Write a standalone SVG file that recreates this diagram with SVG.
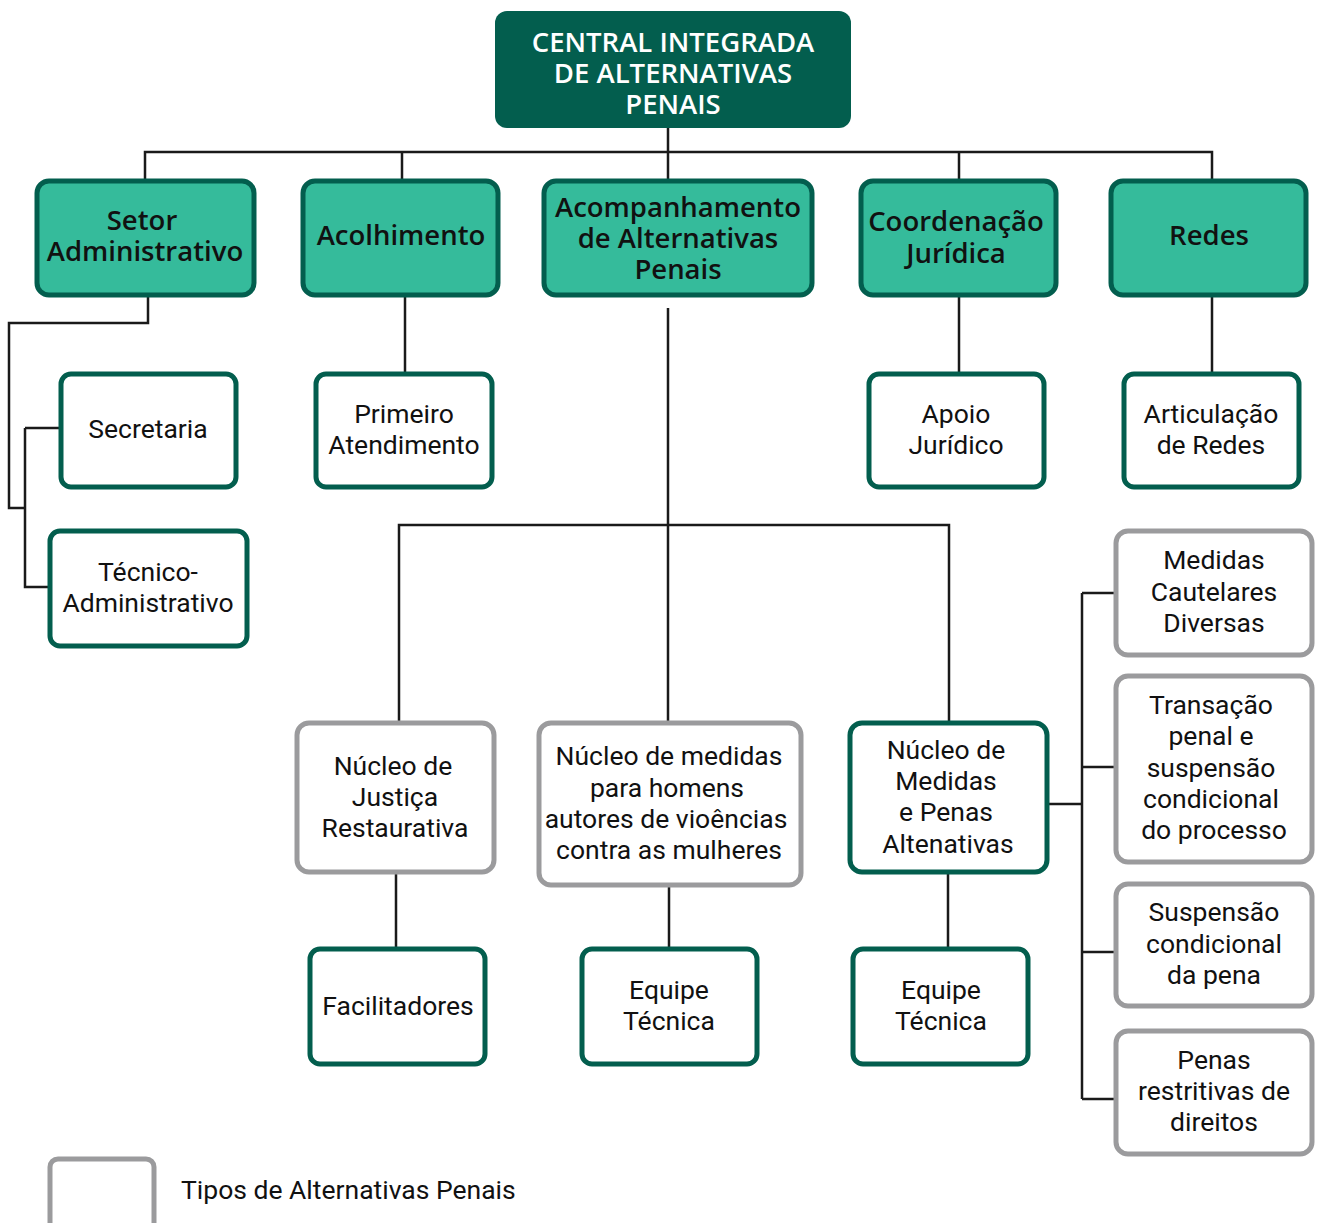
<svg xmlns="http://www.w3.org/2000/svg" width="1317" height="1223" viewBox="0 0 1317 1223">
<style>
.top{fill:#035E4E;}
.l2{fill:#35BB9B;stroke:#035E4E;stroke-width:5;}
.gn{fill:#fff;stroke:#035E4E;stroke-width:5;}
.gy{fill:#fff;stroke:#9B9B9D;stroke-width:5;}
.hd{font-family:"Open Sans","Noto Sans",sans-serif;font-weight:600;font-size:27.5px;fill:#111;text-anchor:middle;}
.tt{font-family:"Open Sans","Noto Sans",sans-serif;font-weight:600;font-size:27.5px;fill:#fff;text-anchor:middle;}
.tx{font-family:Roboto,"Liberation Sans",sans-serif;font-size:26.5px;fill:#111;text-anchor:middle;}
.lg{font-family:Roboto,"Liberation Sans",sans-serif;font-size:26.5px;fill:#111;}
#connectors path{fill:none;stroke:#1a1a1a;stroke-width:2.5;}
</style>
<rect width="1317" height="1223" fill="#fff"/>
<g id="connectors">
<path d="M668 128V152M145 180V152H1212V180M402 152V180M668 152V180M959 152V180"/>
<path d="M148 296V323H9V508H25M25 428H60M25 428V587H49"/>
<path d="M405 296V373"/>
<path d="M959 296V373M1212 296V373"/>
<path d="M668 308V722M399 722V525H949V722"/>
<path d="M396 873V948M669 886V948M948 873V948"/>
<path d="M1048 804H1082M1082 593V1099M1082 593H1115M1082 767H1115M1082 952H1115M1082 1099H1115"/>
</g>
<g id="central"><rect class="top" x="495" y="11" width="356" height="117" rx="12"/>
<text class="tt" x="673" y="52">CENTRAL INTEGRADA</text><text class="tt" x="673" y="83">DE ALTERNATIVAS</text><text class="tt" x="673" y="114">PENAIS</text></g>
<g id="setor"><rect class="l2" x="37" y="181" width="217" height="114" rx="12"/>
<text class="hd" x="142" y="230">Setor</text><text class="hd" x="145" y="261">Administrativo</text></g>
<g id="acolhimento"><rect class="l2" x="303" y="181" width="195" height="114" rx="12"/>
<text class="hd" x="401" y="245">Acolhimento</text></g>
<g id="acompanhamento"><rect class="l2" x="544" y="181" width="268" height="114" rx="12"/>
<text class="hd" x="678" y="217">Acompanhamento</text><text class="hd" x="678" y="248">de Alternativas</text><text class="hd" x="678" y="279">Penais</text></g>
<g id="coordenacao"><rect class="l2" x="861" y="181" width="195" height="114" rx="12"/>
<text class="hd" x="956" y="231">Coordenação</text><text class="hd" x="956" y="263">Jurídica</text></g>
<g id="redes"><rect class="l2" x="1111" y="181" width="195" height="114" rx="12"/>
<text class="hd" x="1209" y="245">Redes</text></g>
<g id="secretaria"><rect class="gn" x="61" y="374" width="175" height="113" rx="10"/>
<text class="tx" x="148" y="438">Secretaria</text></g>
<g id="tecnico"><rect class="gn" x="50" y="531" width="197" height="115" rx="10"/>
<text class="tx" x="148" y="581">Técnico-</text><text class="tx" x="148" y="612">Administrativo</text></g>
<g id="primeiro"><rect class="gn" x="316" y="374" width="176" height="113" rx="10"/>
<text class="tx" x="404" y="423">Primeiro</text><text class="tx" x="404" y="454">Atendimento</text></g>
<g id="apoio"><rect class="gn" x="869" y="374" width="175" height="113" rx="10"/>
<text class="tx" x="956" y="423">Apoio</text><text class="tx" x="956" y="454">Jurídico</text></g>
<g id="articulacao"><rect class="gn" x="1124" y="374" width="175" height="113" rx="10"/>
<text class="tx" x="1211" y="423">Articulação</text><text class="tx" x="1211" y="454">de Redes</text></g>
<g id="justica"><rect class="gy" x="297" y="723" width="197" height="149" rx="12"/>
<text class="tx" x="393" y="775">Núcleo de</text><text class="tx" x="395" y="806">Justiça</text><text class="tx" x="395" y="837">Restaurativa</text></g>
<g id="homens"><rect class="gy" x="539" y="723" width="262" height="162" rx="12"/>
<text class="tx" x="669" y="765">Núcleo de medidas</text><text class="tx" x="667" y="797">para homens</text><text class="tx" x="666" y="828">autores de vioências</text><text class="tx" x="669" y="859">contra as mulheres</text></g>
<g id="nucleo-penas"><rect class="gn" x="850" y="723" width="197" height="149" rx="12"/>
<text class="tx" x="946" y="759">Núcleo de</text><text class="tx" x="946" y="790">Medidas</text><text class="tx" x="946" y="821">e Penas</text><text class="tx" x="948" y="853">Altenativas</text></g>
<g id="facilitadores"><rect class="gn" x="310" y="949" width="175" height="115" rx="10"/>
<text class="tx" x="398" y="1015">Facilitadores</text></g>
<g id="equipe1"><rect class="gn" x="582" y="949" width="175" height="115" rx="10"/>
<text class="tx" x="669" y="999">Equipe</text><text class="tx" x="669" y="1030">Técnica</text></g>
<g id="equipe2"><rect class="gn" x="853" y="949" width="175" height="115" rx="10"/>
<text class="tx" x="941" y="999">Equipe</text><text class="tx" x="941" y="1030">Técnica</text></g>
<g id="cautelares"><rect class="gy" x="1116" y="531" width="196" height="124" rx="12"/>
<text class="tx" x="1214" y="569">Medidas</text><text class="tx" x="1214" y="601">Cautelares</text><text class="tx" x="1214" y="632">Diversas</text></g>
<g id="transacao"><rect class="gy" x="1116" y="676" width="196" height="186" rx="12"/>
<text class="tx" x="1211" y="714">Transação</text><text class="tx" x="1211" y="745">penal e</text><text class="tx" x="1211" y="777">suspensão</text><text class="tx" x="1211" y="808">condicional</text><text class="tx" x="1214" y="839">do processo</text></g>
<g id="suspensao"><rect class="gy" x="1116" y="884" width="196" height="122" rx="12"/>
<text class="tx" x="1214" y="921">Suspensão</text><text class="tx" x="1214" y="953">condicional</text><text class="tx" x="1214" y="984">da pena</text></g>
<g id="restritivas"><rect class="gy" x="1116" y="1031" width="196" height="123" rx="12"/>
<text class="tx" x="1214" y="1069">Penas</text><text class="tx" x="1214" y="1100">restritivas de</text><text class="tx" x="1214" y="1131">direitos</text></g>
<g id="legenda"><rect class="gy" x="50" y="1159" width="104" height="80" rx="8"/>
<text class="lg" x="181" y="1199">Tipos de Alternativas Penais</text></g>
</svg>
